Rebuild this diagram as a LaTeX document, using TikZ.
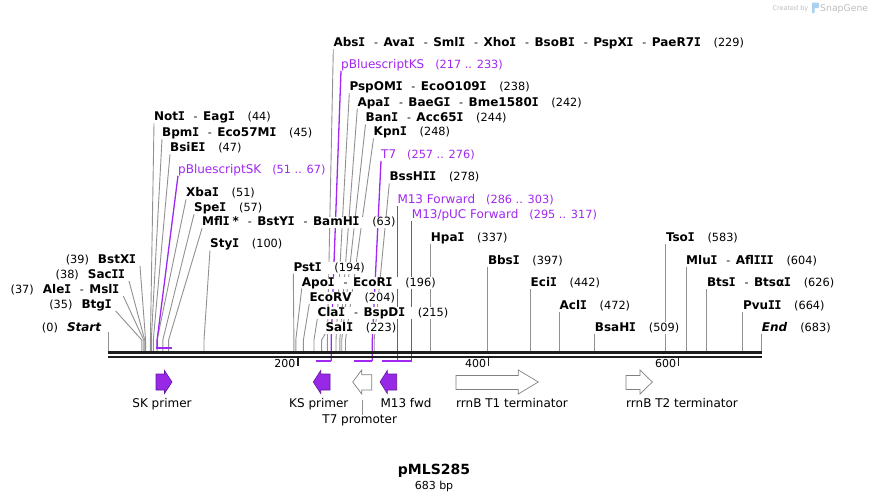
\documentclass[tikz,border=0pt]{standalone}
\usepackage{fontspec}
\setmainfont{DejaVu Sans}
\newfontfamily\serifIfont{DejaVu Sans Mono}
\usetikzlibrary{backgrounds}
\definecolor{cutgray}{RGB}{145,145,145}
\definecolor{fpurple}{RGB}{160,40,240}
\definecolor{afill}{RGB}{150,40,230}
\definecolor{aedge}{RGB}{100,20,160}
\definecolor{bbcol}{RGB}{30,30,30}
\definecolor{logogray}{RGB}{190,190,190}
\definecolor{logoblue}{RGB}{170,210,240}
\newcommand{\sI}{\kern-0.35pt{\serifIfont I}\kern-0.35pt}
\newcommand{\enzb}[1]{\textbf{#1}}
\newcommand{\enzd}{\hspace{9pt}{\fontsize{11}{13}\selectfont -}\hspace{5.5pt}}
\newcommand{\enzn}[1]{\hspace{13pt}{\fontsize{11.3}{13}\selectfont(#1)}}
\newcommand{\enzl}[1]{{\fontsize{11.3}{13}\selectfont(#1)}\hspace{9pt}}
\newcommand{\featn}[1]{\hspace{11pt}{\fontsize{11.3}{13}\selectfont(#1)}}
\tikzset{
 lab/.style={inner sep=0pt, anchor=base west, fill=white, font=\fontsize{12}{14}\selectfont, text height=9pt, text depth=2.5pt},
 labr/.style={lab, anchor=base east},
 flab/.style={lab, text=fpurple},
 cut/.style={draw=cutgray, line width=0.9pt},
 fline/.style={draw=fpurple, line width=1.3pt},
 fbar/.style={draw=fpurple, line width=2pt},
 parrow/.style={fill=afill, draw=aedge, line width=0.6pt},
 warrow/.style={fill=white, draw=gray, line width=0.7pt},
 flabel/.style={inner sep=0pt, anchor=base, font=\fontsize{12}{14}\selectfont},
 ticklab/.style={inner sep=0pt, anchor=base east, font=\fontsize{11}{13}\selectfont},
}
\begin{document}
\begin{tikzpicture}[x=1pt,y=-1pt]
\useasboundingbox (0,0) rectangle (870,501);

% site coordinates (top of stubs)
\coordinate (s0) at (108.3,332);
\coordinate (s35) at (141.8,340);
\coordinate (s37) at (143.7,340);
\coordinate (s38) at (144.7,340);
\coordinate (s39) at (145.6,340);
\coordinate (s44) at (150.4,340);
\coordinate (s45) at (151.3,340);
\coordinate (s47) at (153.3,340);
\coordinate (s51) at (157.1,340);
\coordinate (s57) at (162.8,340);
\coordinate (s63) at (168.6,340);
\coordinate (s100) at (204.0,340);
\coordinate (s194) at (293.9,340);
\coordinate (s196) at (295.8,340);
\coordinate (s204) at (303.4,340);
\coordinate (s215) at (314.0,340);
\coordinate (s223) at (321.6,340);
\coordinate (s229) at (327.4,340);
\coordinate (s233) at (331.2,340);
\coordinate (s238) at (336.0,340);
\coordinate (s242) at (339.8,340);
\coordinate (s244) at (341.7,340);
\coordinate (s248) at (345.5,340);
\coordinate (s276) at (372.3,340);
\coordinate (s278) at (374.2,340);
\coordinate (bbtop) at (0,351);
\coordinate (fbot) at (0,361);

% ---- labels ----
\node[labr] (bstxi) at (136,263.3) {\enzl{39}\enzb{BstX\sI}};
\node[labr] (sacii) at (125,278.3) {\enzl{38}\enzb{Sac\sI\sI}};
\node[labr] (alei) at (119.3,293.3) {\enzl{37}\enzb{Ale\sI}\enzd\enzb{Msl\sI}};
\node[labr] (btgi) at (111.7,308.3) {\enzl{35}\enzb{Btg\sI}};
\node[labr] (start) at (101.7,331) {\enzl{0}\textbf{\textit{Start}}};

\node[lab] (noti) at (154,120.7) {\enzb{Not\sI}\enzd\enzb{Eag\sI}\enzn{44}};
\node[lab] (bpmi) at (162,136.5) {\enzb{Bpm\sI}\enzd\enzb{Eco57M\sI}\enzn{45}};
\node[lab] (bsiei) at (170,151.7) {\enzb{BsiE\sI}\enzn{47}};
\node[flab] (pbsk) at (178,173) {pBluescriptSK\featn{51 .. 67}};
\node[lab] (xbai) at (186,196.7) {\enzb{Xba\sI}\enzn{51}};
\node[lab] (spei) at (194,211.5) {\enzb{Spe\sI}\enzn{57}};
\node[lab] (mfli) at (202,225.7) {\enzb{Mfl\sI}\hspace{3pt}\enzb{*}\enzd\enzb{BstY\sI}\enzd\enzb{BamH\sI}\enzn{63}};
\node[lab] (styi) at (210,247.8) {\enzb{Sty\sI}\enzn{100}};

\node[lab] (psti) at (293.3,271) {\enzb{Pst\sI}\enzn{194}};
\node[lab] (apoi) at (301.7,286) {\enzb{Apo\sI}\enzd\enzb{EcoR\sI}\enzn{196}};
\node[lab] (ecorv) at (309.3,301) {\enzb{EcoRV}\enzn{204}};
\node[lab] (clai) at (317.3,316) {\enzb{Cla\sI}\enzd\enzb{BspD\sI}\enzn{215}};
\node[lab] (sali) at (325.3,331) {\enzb{Sal\sI}\enzn{223}};
\node[lab] (absi) at (333.3,46.7) {\enzb{Abs\sI}\enzd\enzb{Ava\sI}\enzd\enzb{Sml\sI}\enzd\enzb{Xho\sI}\enzd\enzb{BsoB\sI}\enzd\enzb{PspX\sI}\enzd\enzb{PaeR7\sI}\enzn{229}};
\node[flab] (pbks) at (341,68) {pBluescriptKS\featn{217 .. 233}};
\node[lab] (pspomi) at (349.3,90.7) {\enzb{PspOM\sI}\enzd\enzb{EcoO109\sI}\enzn{238}};
\node[lab] (apai) at (357.3,106) {\enzb{Apa\sI}\enzd\enzb{BaeG\sI}\enzd\enzb{Bme1580\sI}\enzn{242}};
\node[lab] (bani) at (365.5,121.7) {\enzb{Ban\sI}\enzd\enzb{Acc65\sI}\enzn{244}};
\node[lab] (kpni) at (373.5,135.7) {\enzb{Kpn\sI}\enzn{248}};
\node[flab] (t7) at (381,158.3) {T7\featn{257 .. 276}};
\node[lab] (bsshii) at (389.3,180.7) {\enzb{BssH\sI\sI}\enzn{278}};
\node[flab] (m13f) at (397.3,203.3) {M13 Forward\featn{286 .. 303}};
\node[flab] (m13p) at (411.7,218) {M13/pUC Forward\featn{295 .. 317}};
\node[lab] (hpai) at (430.7,241) {\enzb{Hpa\sI}\enzn{337}};
\node[lab] (bbsi) at (487.8,264) {\enzb{Bbs\sI}\enzn{397}};
\node[lab] (ecii) at (530.5,286.7) {\enzb{Eci\sI}\enzn{442}};
\node[lab] (acli) at (559.5,309.3) {\enzb{Acl\sI}\enzn{472}};
\node[lab] (bsahi) at (594.7,331) {\enzb{BsaH\sI}\enzn{509}};
\node[lab] (tsoi) at (665.8,241) {\enzb{Tso\sI}\enzn{583}};
\node[lab] (mlui) at (686,264) {\enzb{Mlu\sI}\enzd\enzb{Afl\sI\sI\sI}\enzn{604}};
\node[lab] (btsi) at (706.8,286.7) {\enzb{Bts\sI}\enzd\enzb{Btsα\sI}\enzn{626}};
\node[lab] (pvuii) at (742.8,309.3) {\enzb{Pvu\sI\sI}\enzn{664}};
\node[lab] (endl) at (761.7,331) {\textbf{\textit{End}}\enzn{683}};

% ---- connectors (behind labels) ----
\begin{pgfonlayer}{background}
\fill[white] (0,0) rectangle (870,501);
\draw[cut] ([xshift=4pt]bstxi.south east) -- (s39) -- ++(0,11);
\draw[cut] ([xshift=4pt]sacii.south east) -- (s38) -- ++(0,11);
\draw[cut] ([xshift=4pt]alei.south east) -- (s37) -- ++(0,11);
\draw[cut] ([xshift=4pt]btgi.south east) -- (s35) -- ++(0,11);
\draw[cut] (s0) -- (s0 |- bbtop);
\foreach \lb/\st in {noti/s44, bpmi/s45, bsiei/s47, xbai/s51, spei/s57, mfli/s63, styi/s100,
  psti/s194, apoi/s196, ecorv/s204, clai/s215, sali/s223, absi/s229, pspomi/s238,
  apai/s242, bani/s244, kpni/s248, bsshii/s278}
  {\draw[cut] (\lb.south west) -- (\st) -- ++(0,11);}
\foreach \lb in {hpai, bbsi, ecii, acli, bsahi, tsoi, mlui, btsi, pvuii, endl}
  {\draw[cut] (\lb.south west) -- (\lb.south west |- bbtop);}
% feature connectors
\draw[fline] (pbsk.south west) -- (s51) -- ++(0,7.7);
\draw[fbar] (156.3,347.7) -- (172.4,347.7);
\draw[fline] (pbks.south west) -- (s233) -- (s233 |- fbot);
\draw[fbar] (s233 |- fbot) -- (315.9,361);
\draw[fline] (t7.south west) -- (s276) -- (s276 |- fbot);
\draw[fbar] (s276 |- fbot) -- (354.1,361);
\draw[fline] (m13f.south west) -- (m13f.south west |- fbot);
\draw[fbar] (m13f.south west |- fbot) -- (381.9,361);
\draw[fline] (m13p.south west) -- (m13p.south west |- fbot);
\draw[fbar] (m13p.south west |- fbot) -- (390.5,361);
\end{pgfonlayer}

% ---- backbone ----
\draw[bbcol, line width=3pt] (108,352.5) -- (762,352.5);
\draw[bbcol, line width=2pt] (108,356.7) -- (762,356.7);
\draw[bbcol, line width=1.6pt] (297.7,357) -- (297.7,366);
\draw[bbcol, line width=1.6pt] (488.3,357) -- (488.3,366);
\draw[bbcol, line width=1.6pt] (678.5,357) -- (678.5,366);
\node[ticklab] (t200) at (295.5,367.3) {200};
\node[ticklab] (t400) at (486.2,367.3) {400};
\node[ticklab] (t600) at (676.4,367.3) {600};

% ---- feature arrows ----
\draw[parrow] (156,374) -- (164.5,374) -- (164.5,370.5) -- (172,382) -- (164.5,393.5) -- (164.5,390) -- (156,390) -- cycle;
\draw[parrow] (330,374) -- (320.7,374) -- (320.7,370.5) -- (313.3,382) -- (320.7,393.5) -- (320.7,390) -- (330,390) -- cycle;
\draw[warrow] (371.7,374.7) -- (361.7,374.7) -- (361.7,370) -- (352.7,382) -- (361.7,394) -- (361.7,390) -- (371.7,390) -- cycle;
\draw[parrow] (396.7,374) -- (387.3,374) -- (387.3,370.5) -- (380,382) -- (387.3,393.5) -- (387.3,390) -- (396.7,390) -- cycle;
\draw[warrow] (456,375.5) -- (518.3,375.5) -- (518.3,370) -- (538.3,382) -- (518.3,394) -- (518.3,389.5) -- (456,389.5) -- cycle;
\draw[warrow] (626,375.5) -- (640,375.5) -- (640,370) -- (652.3,382) -- (640,394) -- (640,389.5) -- (626,389.5) -- cycle;

\node[flabel] (skp) at (162,407.5) {SK primer};
\node[flabel] (ksp) at (318.8,407.5) {KS primer};
\node[flabel] (m13fw) at (406,407.5) {M13 fwd};
\node[flabel, anchor=base west] (t1) at (456,407.8) {rrnB T1 terminator};
\node[flabel, anchor=base west] (t2) at (626,407.8) {rrnB T2 terminator};
\node[flabel] (t7p) at (359.7,423.6) {T7 promoter};
\coordinate (t7pa) at (362.3,400);
\draw[cutgray, line width=0.8pt] (t7pa) -- (t7pa |- t7p.north);

% ---- title ----
\node[inner sep=0pt, anchor=base, font=\fontsize{14}{16}\selectfont\bfseries] (title) at (434,474) {pMLS285};
\node[inner sep=0pt, anchor=base, font=\fontsize{11}{13}\selectfont] (size) at (434,489.3) {683 bp};

% ---- logo ----
\node[inner sep=0pt, anchor=base east, text=logogray, font=\fontsize{6.5}{8}\selectfont] (cby) at (808.5,10) {Created by};
\fill[logoblue] (812,2.5) -- (818,2.5) .. controls (819.5,2.5) and (819.5,8) .. (818,8) -- (814.5,8) -- (814.5,13) -- (812,13) -- cycle;
\node[inner sep=0pt, anchor=base west, text=logogray, font=\fontsize{9.3}{11}\selectfont] (sg) at (820,11) {SnapGene};
\end{tikzpicture}
\end{document}
